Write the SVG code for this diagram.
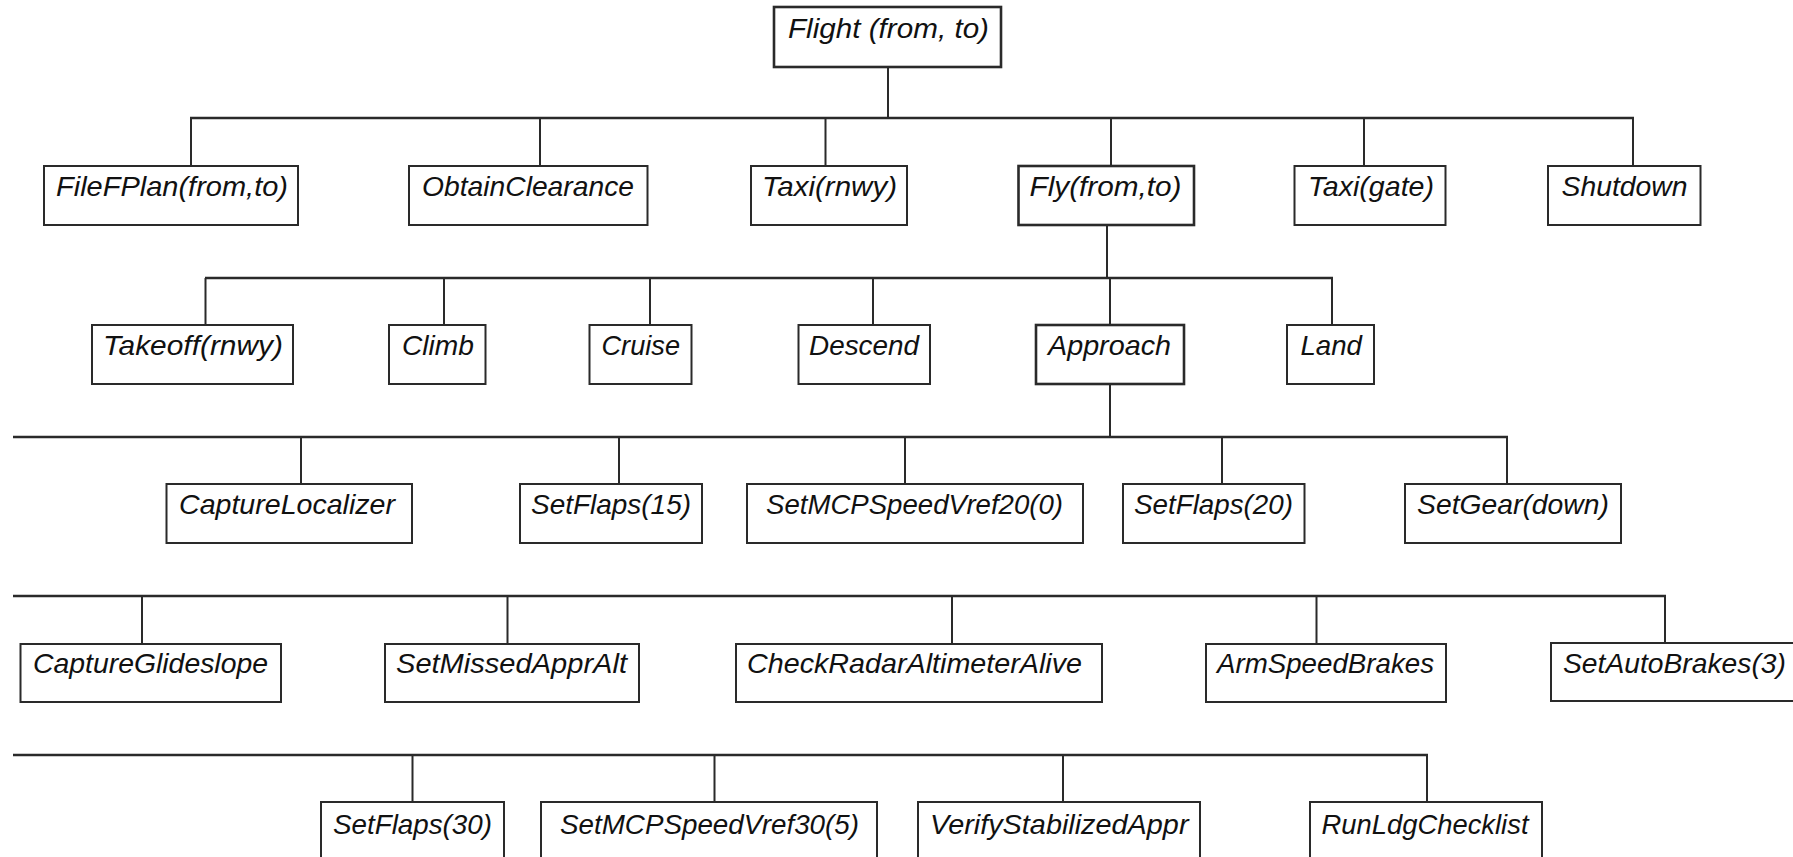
<svg xmlns="http://www.w3.org/2000/svg" width="1793" height="857" viewBox="0 0 1793 857">
<style>
.box{fill:#fff;stroke:#2a2a2a;stroke-width:2}
.bold{stroke-width:2.6}
.lbl{font-family:"Liberation Sans",Arial,sans-serif;font-style:italic;font-size:28px;fill:#111}
.bus{stroke:#2a2a2a;stroke-width:2.6;fill:none}
.con{stroke:#2a2a2a;stroke-width:2;fill:none}
</style>
<rect width="1793" height="857" fill="#fff"/>
<g id="connectors">
<line class="con" x1="888" y1="67" x2="888" y2="118"/>
<line class="bus" x1="190" y1="118" x2="1634" y2="118"/>
<path class="con" d="M191 118V166M540 118V166M825.5 118V166M1111 118V166M1364 118V166M1633 118V166"/>
<line class="con" x1="1107" y1="225" x2="1107" y2="278"/>
<line class="bus" x1="205" y1="278" x2="1333" y2="278"/>
<path class="con" d="M205.5 278V325M444 278V325M650 278V325M873 278V325M1110 278V325M1332 278V325"/>
<line class="con" x1="1110" y1="384" x2="1110" y2="437"/>
<line class="bus" x1="13" y1="437" x2="1508" y2="437"/>
<path class="con" d="M301 437V484M619 437V484M905 437V484M1222 437V484M1507 437V484"/>
<line class="bus" x1="13" y1="596" x2="1666" y2="596"/>
<path class="con" d="M142 596V644M507.5 596V644M952 596V644M1316.5 596V644M1665 596V644"/>
<line class="bus" x1="13" y1="755" x2="1428" y2="755"/>
<path class="con" d="M412.5 755V802M714.5 755V802M1063 755V802M1427 755V802"/>
</g>
<g id="n-flight"><rect class="box bold" x="774" y="7" width="227" height="60"/><text class="lbl" x="788" y="38" textLength="201" lengthAdjust="spacingAndGlyphs">Flight (from, to)</text></g>
<g id="n-filefplan"><rect class="box" x="44" y="166" width="254" height="59"/><text class="lbl" x="56" y="196" textLength="232" lengthAdjust="spacingAndGlyphs">FileFPlan(from,to)</text></g>
<g id="n-obtainclearance"><rect class="box" x="409" y="166" width="238.5" height="59"/><text class="lbl" x="422" y="196" textLength="212" lengthAdjust="spacingAndGlyphs">ObtainClearance</text></g>
<g id="n-taxirnwy"><rect class="box" x="751" y="166" width="156" height="59"/><text class="lbl" x="762" y="196" textLength="135" lengthAdjust="spacingAndGlyphs">Taxi(rnwy)</text></g>
<g id="n-fly"><rect class="box bold" x="1018.5" y="166" width="175.5" height="59"/><text class="lbl" x="1029.5" y="196" textLength="152" lengthAdjust="spacingAndGlyphs">Fly(from,to)</text></g>
<g id="n-taxigate"><rect class="box" x="1294.5" y="166" width="151" height="59"/><text class="lbl" x="1308" y="196" textLength="126" lengthAdjust="spacingAndGlyphs">Taxi(gate)</text></g>
<g id="n-shutdown"><rect class="box" x="1548" y="166" width="152.5" height="59"/><text class="lbl" x="1561.5" y="196" textLength="126" lengthAdjust="spacingAndGlyphs">Shutdown</text></g>
<g id="n-takeoff"><rect class="box" x="92" y="325" width="201" height="59"/><text class="lbl" x="103" y="355" textLength="180" lengthAdjust="spacingAndGlyphs">Takeoff(rnwy)</text></g>
<g id="n-climb"><rect class="box" x="389" y="325" width="96.5" height="59"/><text class="lbl" x="402" y="355" textLength="72" lengthAdjust="spacingAndGlyphs">Climb</text></g>
<g id="n-cruise"><rect class="box" x="589.5" y="325" width="102" height="59"/><text class="lbl" x="601.5" y="355" textLength="78.5" lengthAdjust="spacingAndGlyphs">Cruise</text></g>
<g id="n-descend"><rect class="box" x="798.5" y="325" width="131.5" height="59"/><text class="lbl" x="809" y="355" textLength="110" lengthAdjust="spacingAndGlyphs">Descend</text></g>
<g id="n-approach"><rect class="box bold" x="1036" y="325" width="148" height="59"/><text class="lbl" x="1048" y="355" textLength="123" lengthAdjust="spacingAndGlyphs">Approach</text></g>
<g id="n-land"><rect class="box" x="1287" y="325" width="87" height="59"/><text class="lbl" x="1300.5" y="355" textLength="61.5" lengthAdjust="spacingAndGlyphs">Land</text></g>
<g id="n-capturelocalizer"><rect class="box" x="166.5" y="484" width="245.5" height="59"/><text class="lbl" x="179" y="514" textLength="216" lengthAdjust="spacingAndGlyphs">CaptureLocalizer</text></g>
<g id="n-setflaps15"><rect class="box" x="520" y="484" width="182" height="59"/><text class="lbl" x="531" y="514" textLength="160" lengthAdjust="spacingAndGlyphs">SetFlaps(15)</text></g>
<g id="n-setmcp20"><rect class="box" x="747" y="484" width="336" height="59"/><text class="lbl" x="766" y="514" textLength="297" lengthAdjust="spacingAndGlyphs">SetMCPSpeedVref20(0)</text></g>
<g id="n-setflaps20"><rect class="box" x="1123" y="484" width="181.5" height="59"/><text class="lbl" x="1134" y="514" textLength="159" lengthAdjust="spacingAndGlyphs">SetFlaps(20)</text></g>
<g id="n-setgear"><rect class="box" x="1405" y="484" width="216" height="59"/><text class="lbl" x="1417" y="514" textLength="192" lengthAdjust="spacingAndGlyphs">SetGear(down)</text></g>
<g id="n-captureglideslope"><rect class="box" x="20.5" y="644" width="260.5" height="58"/><text class="lbl" x="33" y="673" textLength="235" lengthAdjust="spacingAndGlyphs">CaptureGlideslope</text></g>
<g id="n-setmissedappralt"><rect class="box" x="385" y="644" width="254" height="58"/><text class="lbl" x="396" y="673" textLength="231" lengthAdjust="spacingAndGlyphs">SetMissedApprAlt</text></g>
<g id="n-checkradar"><rect class="box" x="736" y="644" width="366" height="58"/><text class="lbl" x="747" y="673" textLength="335" lengthAdjust="spacingAndGlyphs">CheckRadarAltimeterAlive</text></g>
<g id="n-armspeedbrakes"><rect class="box" x="1206" y="644" width="240" height="58"/><text class="lbl" x="1217" y="673" textLength="217" lengthAdjust="spacingAndGlyphs">ArmSpeedBrakes</text></g>
<g id="n-setautobrakes"><rect class="box" x="1551" y="643" width="260" height="58"/><text class="lbl" x="1563" y="673" textLength="223" lengthAdjust="spacingAndGlyphs">SetAutoBrakes(3)</text></g>
<g id="n-setflaps30"><rect class="box" x="321" y="802" width="183" height="80"/><text class="lbl" x="333" y="834" textLength="159" lengthAdjust="spacingAndGlyphs">SetFlaps(30)</text></g>
<g id="n-setmcp30"><rect class="box" x="541" y="802" width="336" height="80"/><text class="lbl" x="560" y="834" textLength="299" lengthAdjust="spacingAndGlyphs">SetMCPSpeedVref30(5)</text></g>
<g id="n-verifystabilized"><rect class="box" x="918" y="802" width="282" height="80"/><text class="lbl" x="930" y="834" textLength="258.5" lengthAdjust="spacingAndGlyphs">VerifyStabilizedAppr</text></g>
<g id="n-runldgchecklist"><rect class="box" x="1310" y="802" width="232" height="80"/><text class="lbl" x="1321.5" y="834" textLength="207" lengthAdjust="spacingAndGlyphs">RunLdgChecklist</text></g>
</svg>
